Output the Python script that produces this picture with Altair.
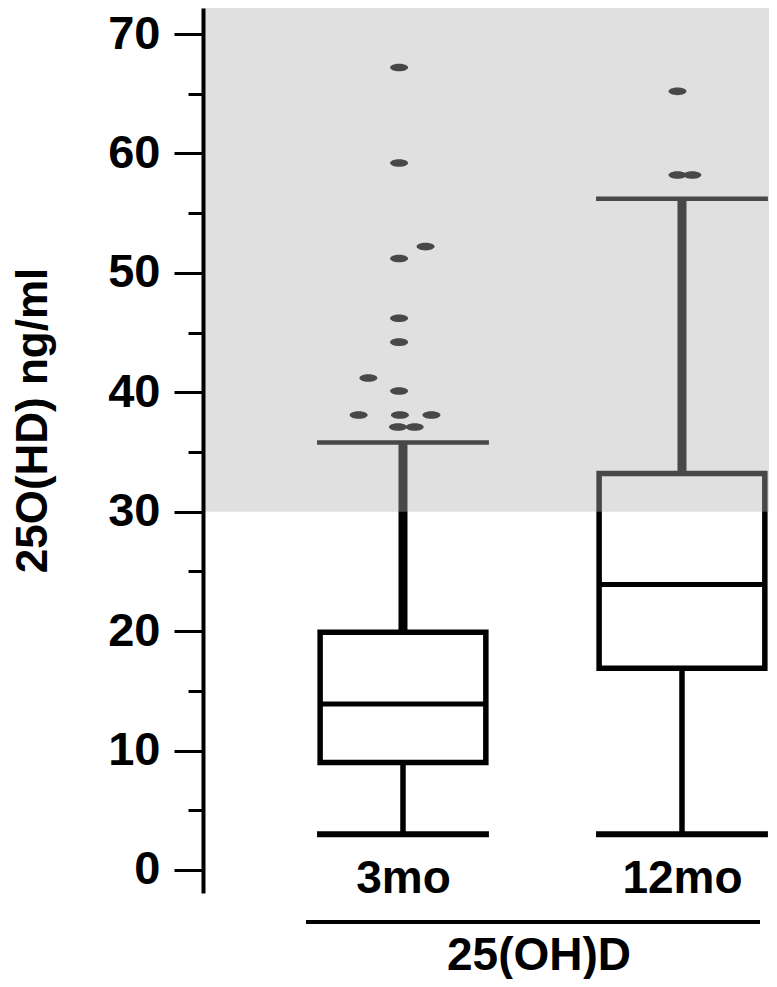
import altair as alt
import pandas as pd

# ---- data ----
groups = ["3mo", "12mo"]
positions = [1, 2]
whisker_low = [3.0, 3.0]
q1 = [9.0, 16.9]
median = [13.9, 23.9]
q3 = [19.9, 33.2]
whisker_high = [35.8, 56.2]

out_group = ["3mo"] * 13 + ["12mo"] * 3
out_value = [67.2, 59.2, 52.2, 51.2, 46.2, 44.2, 41.2, 40.1, 38.1, 38.1, 38.1,
             37.1, 37.1, 65.2, 58.2, 58.2]
out_dodge = [-0.014, -0.014, 0.081, -0.014, -0.014, -0.014, -0.124, -0.014,
             -0.159, -0.011, 0.102, -0.018, 0.042, -0.016, -0.016, 0.037]

threshold = [30]
y_ticks = list(range(0, 75, 5))

x_title = "25(OH)D"
y_title = "25O(HD) ng/ml"

# ---- tables ----
boxes = pd.DataFrame({"group": groups, "pos": positions, "lo": whisker_low,
                      "q1": q1, "med": median, "q3": q3, "hi": whisker_high})
pos_of = dict(zip(groups, positions))
outs = pd.DataFrame({"group": out_group, "value": out_value, "dodge": out_dodge})
outs["pos"] = outs["group"].map(pos_of)
thr = pd.DataFrame({"thr": threshold})

FONT = "Liberation Sans"
BOX_HW = 0.297
CAP_HW = 0.308

xscale = alt.Scale(domain=[0.2832, 2.3119], nice=False, zero=False)
yscale = alt.Scale(domain=[-1.93, 72.18], nice=False, zero=False)

label_expr = " : ".join(
    [f"datum.value == {p} ? '{g}'" for p, g in zip(positions, groups)] + ["''"])

xaxis = alt.Axis(values=positions, labelExpr=label_expr, ticks=False, tickSize=0,
                 domain=False, grid=False, labelFont=FONT, labelFontSize=46,
                 labelFontWeight="bold", labelColor="black",
                 labelBaseline="alphabetic", labelPadding=-1, labelFlush=False,
                 labelOverlap=False, title=x_title, titleFont=FONT,
                 titleFontSize=46, titleFontWeight="bold", titleColor="black",
                 titleX=335.5, titleY=76, titleBaseline="alphabetic",
                 titleAlign="center")

yaxis = alt.Axis(values=y_ticks,
                 labelExpr="datum.value % 10 === 0 ? datum.label : ''",
                 tickSize={"condition": {"test": "datum.value % 10 === 0", "value": 29},
                           "value": 15},
                 tickWidth=3, tickColor="black", domainWidth=4, domainColor="black",
                 grid=False, labelFont=FONT, labelFontSize=47, labelFontWeight="bold",
                 labelColor="black", labelPadding=14, title=y_title, titleFont=FONT,
                 titleFontSize=44, titleFontWeight="bold", titleColor="black",
                 titleAngle=270, titleX=-157, titleY=412, titleBaseline="alphabetic",
                 titleAlign="center", zindex=1)


def X(f):
    return alt.X(f, type="quantitative", scale=xscale, axis=xaxis)


def Y(f):
    return alt.Y(f, type="quantitative", scale=yscale, axis=yaxis)


base = alt.Chart(boxes).transform_calculate(
    bl=f"datum.pos - {BOX_HW}", br=f"datum.pos + {BOX_HW}",
    cl=f"datum.pos - {CAP_HW}", cr=f"datum.pos + {CAP_HW}")

lower = base.mark_rule(color="black", strokeWidth=5.5).encode(
    x=X("pos"), y=Y("lo"), y2="q1")
upper = base.mark_rule(color="black", strokeWidth=9).encode(
    x=X("pos"), y=Y("q3"), y2="hi")
cap_lo = base.mark_rule(color="black", strokeWidth=6).encode(
    x=X("cl"), x2="cr", y=Y("lo"))
cap_hi = base.mark_rule(color="black", strokeWidth=4.5).encode(
    x=X("cl"), x2="cr", y=Y("hi"))
box = base.mark_rect(fill="white", stroke="black", strokeWidth=5.5).encode(
    x=X("bl"), x2="br", y=Y("q1"), y2="q3")
med = base.mark_rule(color="black", strokeWidth=5).encode(
    x=X("bl"), x2="br", y=Y("med"))

ellipse = "M -1 0 A 1 0.42 0 1 0 1 0 A 1 0.42 0 1 0 -1 0 Z"
points = alt.Chart(outs).transform_calculate(
    xp="datum.pos + datum.dodge").mark_point(
    filled=True, shape=ellipse, size=324, color="black", opacity=1).encode(
    x=X("xp"), y=Y("value"))

overlay = alt.Chart(thr).mark_rect(color="#b2b2b2", opacity=0.404).encode(
    y=Y("thr"), y2=alt.value(0), x=alt.value(0), x2=alt.value("width"))

bracket = alt.Chart(thr).mark_rule(color="black", strokeWidth=4).encode(
    x=alt.value(103), x2=alt.value(557), y=alt.value(914))

chart = alt.layer(lower, upper, cap_lo, cap_hi, box, med, points, overlay,
                  bracket).properties(
    width=566, height=885,
    autosize=alt.AutoSizeParams(type="none"),
    padding={"left": 195, "top": 0, "right": 0, "bottom": 86},
).configure(background="white").configure_view(stroke=None)

chart.save("out.html", embed_options={"renderer": "svg", "actions": False})
